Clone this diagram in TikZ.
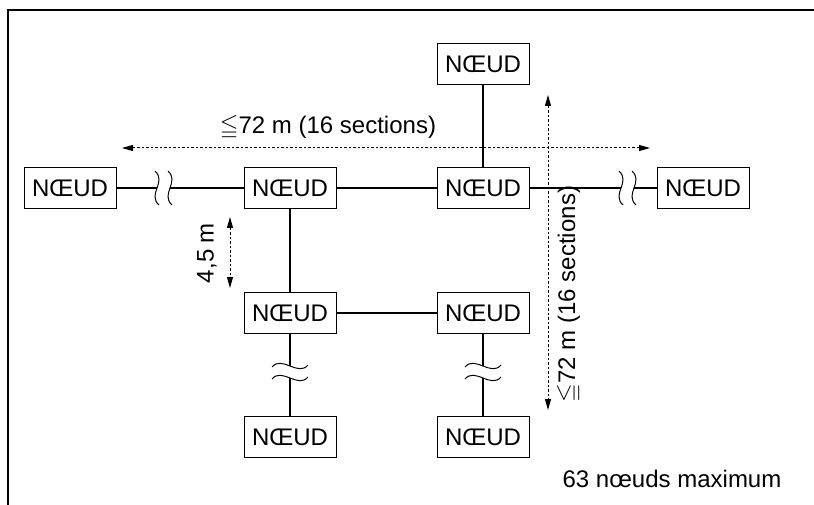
\documentclass[tikz,border=0pt]{standalone}
\usepackage{amssymb}
\usepackage{fontspec}
\setmainfont{Liberation Sans}
\usetikzlibrary{arrows.meta}
\newcommand\diagfont{\fontsize{24}{28}\selectfont}
\tikzset{
  noeud/.style={draw,line width=0.9pt,minimum width=92pt,minimum height=41pt,inner sep=0pt,font=\diagfont},
  bus/.style={line width=2pt},
  wave/.style={line width=1pt},
  dim arrow/.style={{Triangle[length=11pt,width=6pt]}-{Triangle[length=11pt,width=6pt]},line width=1pt,dash pattern=on 2.5pt off 2pt},
  dim label/.style={font=\diagfont,inner sep=0pt}
}

\begin{document}
\begin{tikzpicture}[x=1pt,y=-1pt]
  \useasboundingbox (0,0) rectangle (814,505);
  \draw[line width=1.5pt] (8,505) -- (8,10) -- (814,10);
  % noeuds
  \node[noeud] (gauche) at (70,188) {NŒUD};
  \node[noeud] (centreG) at (290,188) {NŒUD};
  \node[noeud] (centreD) at (483,188) {NŒUD};
  \node[noeud] (droite) at (703,188) {NŒUD};
  \node[noeud] (haut) at (483,64) {NŒUD};
  \node[noeud] (milieuG) at (290,313) {NŒUD};
  \node[noeud] (milieuD) at (483,313) {NŒUD};
  \node[noeud] (basG) at (290,437) {NŒUD};
  \node[noeud] (basD) at (483,437) {NŒUD};
  % coupures
  \coordinate (cg1) at (157,188); \coordinate (cg2) at (170,188);
  \coordinate (cd1) at (621,188); \coordinate (cd2) at (634,188);
  \coordinate (vg1) at (290,366); \coordinate (vg2) at (290,378);
  \coordinate (vd1) at (483,366); \coordinate (vd2) at (483,378);
  % liaisons
  \draw[bus] (gauche) -- (cg1) (cg2) -- (centreG) -- (centreD) -- (cd1) (cd2) -- (droite);
  \draw[bus] (haut) -- (centreD);
  \draw[bus] (centreG) -- (milieuG) -- (milieuD);
  \draw[bus] (milieuG) -- (vg1) (vg2) -- (basG);
  \draw[bus] (milieuD) -- (vd1) (vd2) -- (basD);
  \foreach \c in {cg1,cg2,cd1,cd2}
    \draw[wave,shift={(\c)}] (-2,-17) .. controls (10,-6) and (-10,6) .. (2,17);
  \foreach \c in {vg1,vg2,vd1,vd2}
    \draw[wave,shift={(\c)}] (-18,1) .. controls (-8,-11) and (8,11) .. (18,-1);
  % cotes
  \coordinate (hA) at (122,148); \coordinate (hB) at (650,148);
  \draw[dim arrow] (hA) -- (hB);
  \node[dim label] (hLabel) at (328,128) {$\leqq$72 m (16 sections)};
  \coordinate (vA) at (548,95); \coordinate (vB) at (548,410);
  \draw[dim arrow] (vA) -- (vB);
  \node[dim label,rotate=90] (vLabel) at (569,294) {$\leqq$72 m (16 sections)};
  \coordinate (sA) at (230,217); \coordinate (sB) at (230,288);
  \draw[dim arrow] (sA) -- (sB);
  \node[dim label,rotate=90] (sLabel) at (207,253) {4,5 m};
  \node[dim label] (total) at (672,479) {63 nœuds maximum};
\end{tikzpicture}
\end{document}
